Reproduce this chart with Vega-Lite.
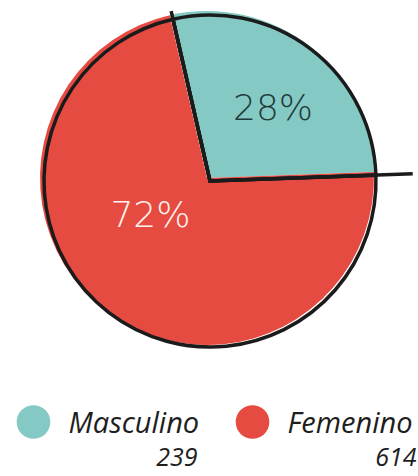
{
  "$schema": "https://vega.github.io/schema/vega-lite/v6.json",
  "padding": 0,
  "spacing": 0,
  "bounds": "flush",
  "background": "#ffffff",
  "config": {"view": {"stroke": null}},
  "datasets": {
    "sexo": [
      {"sexo": "Masculino", "n": 239, "pct": 0.28},
      {"sexo": "Femenino", "n": 614, "pct": 0.72}
    ]
  },
  "data": {"name": "sexo"},
  "vconcat": [
    {
      "width": 418,
      "height": 356,
      "encoding": {
        "theta": {"field": "n", "type": "quantitative", "stack": true, "scale": {"range": [-0.225, 6.058]}},
        "order": {"field": "n", "type": "quantitative", "sort": "ascending"},
        "detail": {"field": "sexo", "type": "nominal"}
      },
      "layer": [
        {
          "mark": {"type": "arc", "radius": 167, "xOffset": -2},
          "encoding": {
            "color": {
              "field": "sexo", "type": "nominal",
              "scale": {"domain": ["Masculino", "Femenino"], "range": ["#84c9c4", "#e64b42"]},
              "legend": null
            }
          }
        },
        {
          "mark": {"type": "arc", "radius": 166, "filled": false, "stroke": "#1b1b1b", "strokeWidth": 3.5, "xOffset": 1, "yOffset": 3}
        },
        {
          "mark": {"type": "arc", "radius": 203, "clip": true, "filled": false, "stroke": "#1b1b1b", "strokeWidth": 3.5, "strokeDash": [0, 386, 377, 3000], "xOffset": 1, "yOffset": 3},
          "encoding": {
            "strokeOpacity": {"condition": {"test": "datum.sexo === 'Masculino'", "value": 1}, "value": 0}
          }
        },
        {
          "mark": {"type": "text", "radius": 92, "dx": 8, "dy": 4, "align": "center", "baseline": "middle", "font": "DejaVu Sans", "fontSize": 36, "fontWeight": 200, "color": "#1f3b3a"},
          "encoding": {
            "text": {"field": "pct", "type": "quantitative", "format": ".0%"},
            "opacity": {"condition": {"test": "datum.sexo === 'Masculino'", "value": 1}, "value": 0}
          }
        },
        {
          "mark": {"type": "text", "radius": 60, "dx": -22, "dy": -10, "align": "center", "baseline": "middle", "font": "DejaVu Sans", "fontSize": 36, "fontWeight": 200, "color": "#fff3ee"},
          "encoding": {
            "text": {"field": "pct", "type": "quantitative", "format": ".0%"},
            "opacity": {"condition": {"test": "datum.sexo === 'Femenino'", "value": 1}, "value": 0}
          }
        }
      ]
    },
    {
      "width": 418,
      "height": 120,
      "encoding": {
        "x": {
          "field": "sexo", "type": "nominal", "sort": ["Masculino", "Femenino"],
          "scale": {"type": "band", "range": [0, 438], "paddingInner": 0, "paddingOuter": 0},
          "axis": null
        }
      },
      "layer": [
        {
          "mark": {"type": "circle", "size": 1130, "opacity": 1, "xOffset": -76, "yOffset": 6},
          "encoding": {
            "color": {
              "field": "sexo", "type": "nominal",
              "scale": {"domain": ["Masculino", "Femenino"], "range": ["#84c9c4", "#e64b42"]},
              "legend": null
            }
          }
        },
        {
          "mark": {"type": "text", "align": "left", "baseline": "alphabetic", "dx": -41, "dy": 17, "font": "Open Sans", "fontStyle": "italic", "fontSize": 29, "color": "#1e1e1e"},
          "encoding": {"text": {"field": "sexo", "type": "nominal"}}
        },
        {
          "mark": {"type": "text", "align": "right", "baseline": "alphabetic", "dx": 88, "dy": 50, "font": "Open Sans", "fontStyle": "italic", "fontSize": 25, "color": "#1e1e1e"},
          "encoding": {"text": {"field": "n", "type": "quantitative"}}
        }
      ]
    }
  ]
}
